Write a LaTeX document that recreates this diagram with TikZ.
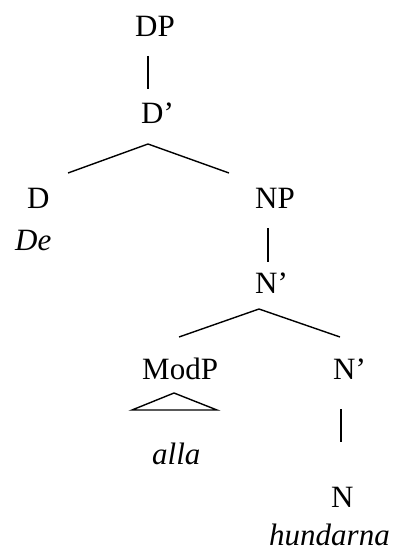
\documentclass[tikz,border=0pt]{standalone}
\usepackage{fontspec}
\setmainfont{Liberation Serif}
\begin{document}
\begin{tikzpicture}[x=1pt,y=-1pt,
  lab/.style={anchor=base west,inner sep=0pt,font=\fontsize{31}{37}\selectfont},
  itlab/.style={lab,font=\fontsize{31}{37}\selectfont\itshape},
  edge/.style={line width=1.4pt}]
\useasboundingbox (0,0) rectangle (395,551);
% labels
\node[lab] (DP) at (135,37) {DP};
\node[lab] (Dbar) at (141,123) {D’};
\node[lab] (D) at (27,208) {D};
\node[itlab] (De) at (15,250) {De};
\node[lab] (NP) at (255,208) {NP};
\node[lab] (Nbar) at (255,293) {N’};
\node[lab] (ModP) at (142,379) {ModP};
\node[lab] (Nbarb) at (333,379) {N’};
\node[itlab] (alla) at (152,464) {alla};
\node[lab] (N) at (331,507) {N};
\node[itlab] (hund) at (269,545) {hundarna};
% connector points
\coordinate (a1) at (148,56);  \coordinate (a2) at (148,89);
\coordinate (b0) at (148,144); \coordinate (bl) at (68,173); \coordinate (br) at (229,173);
\coordinate (c1) at (268,228); \coordinate (c2) at (268,262);
\coordinate (d0) at (259,309); \coordinate (dl) at (179,337); \coordinate (dr) at (340,337);
\coordinate (t0) at (174,393); \coordinate (tl) at (132,410); \coordinate (tr) at (217,410);
\coordinate (e1) at (341,409); \coordinate (e2) at (341,442);
% connectors
\draw[edge] (a1) -- (a2);
\draw[edge] (bl) -- (b0) -- (br);
\draw[edge] (c1) -- (c2);
\draw[edge] (dl) -- (d0) -- (dr);
\draw[edge] (tl) -- (t0) -- (tr) -- cycle;
\draw[edge] (e1) -- (e2);
\end{tikzpicture}
\end{document}
